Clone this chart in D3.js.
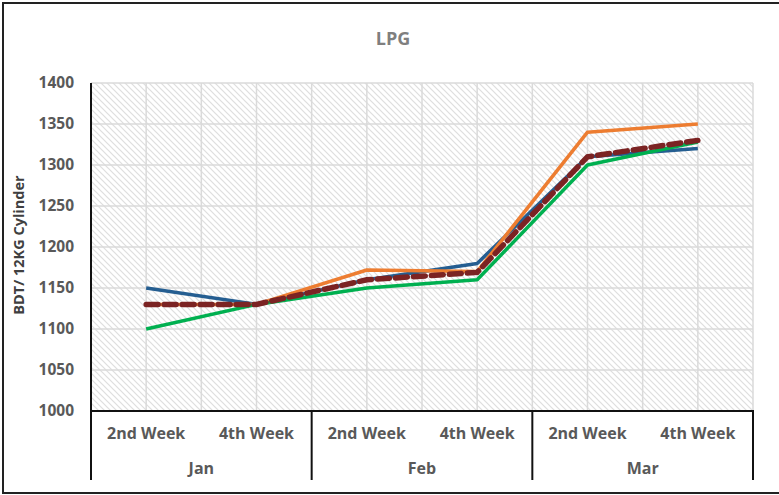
<!DOCTYPE html>
<html>
<head>
<meta charset="utf-8">
<script src="https://cdn.jsdelivr.net/npm/d3@7"></script>
<style>
  body { margin: 0; background: #fff; }
  text { font-family: "Open Sans", sans-serif; font-weight: bold; }
</style>
</head>
<body>
<svg id="chart" width="779" height="495"></svg>
<script>
// data
var months = ["Jan", "Feb", "Mar"];
var weeks = ["2nd Week", "4th Week"];
var categories = ["Jan 2nd Week", "Jan 4th Week", "Feb 2nd Week", "Feb 4th Week", "Mar 2nd Week", "Mar 4th Week"];
var blueSeries = [1150, 1130, 1160, 1180, 1310, 1320];
var orangeSeries = [1130, 1130, 1172, 1170, 1340, 1350];
var greenSeries = [1100, 1130, 1150, 1160, 1300, 1328];
var redSeries = [1130, 1130, 1160, 1169, 1310, 1330];
var yTicks = [1000, 1050, 1100, 1150, 1200, 1250, 1300, 1350, 1400];

var svg = d3.select("#chart"),
    plotL = 91, plotR = 753, plotT = 83, plotB = 411;

// outer frame
svg.append("rect")
    .attr("x", 3).attr("y", 3)
    .attr("width", 780).attr("height", 490)
    .attr("fill", "#fff")
    .attr("stroke", "#222").attr("stroke-width", 2);

// hatch pattern
var pat = svg.append("defs").append("pattern")
    .attr("id", "hatch")
    .attr("patternUnits", "userSpaceOnUse")
    .attr("width", 6).attr("height", 6);
pat.append("rect").attr("width", 6).attr("height", 6).attr("fill", "#fff");
pat.append("path")
    .attr("d", "M-1,-1 L7,7 M-1,5 L1,7 M5,-1 L7,1")
    .attr("stroke", "#dedede").attr("stroke-width", 1.2);

var x = d3.scaleBand().domain(categories).range([plotL, plotR]);
var y = d3.scaleLinear().domain([1000, 1400]).range([plotB, plotT]);

svg.append("rect")
    .attr("x", plotL).attr("y", plotT)
    .attr("width", plotR - plotL).attr("height", plotB - plotT)
    .attr("fill", "url(#hatch)");

// gridlines
var g = svg.append("g").attr("stroke", "#dadada").attr("stroke-width", 1.5);
yTicks.slice(1).forEach(function (t) {
    g.append("line").attr("x1", plotL).attr("x2", plotR).attr("y1", y(t)).attr("y2", y(t));
});
var vx = [];
categories.forEach(function (c) {
    vx.push(x(c) + x.bandwidth() / 2);
    vx.push(x(c) + x.bandwidth());
});
vx.forEach(function (v) {
    g.append("line").attr("x1", v).attr("x2", v).attr("y1", plotT).attr("y2", plotB);
});

// y axis labels
var yAxis = d3.axisLeft(y).tickValues(yTicks).tickSize(0).tickPadding(17).tickFormat(d3.format("d"));
var ya = svg.append("g").attr("transform", "translate(" + plotL + ",0)").call(yAxis);
ya.select(".domain").remove();
ya.selectAll("text").attr("font-size", 15.5).attr("fill", "#595959")
    .style("font-family", "'Open Sans', sans-serif").style("font-weight", "bold");

svg.append("text")
    .attr("transform", "translate(24,245) rotate(-90)")
    .attr("text-anchor", "middle")
    .attr("font-size", 14.5).attr("fill", "#404040")
    .text("BDT/ 12KG Cylinder");

// title
svg.append("text")
    .attr("x", 393).attr("y", 45)
    .attr("text-anchor", "middle")
    .attr("font-size", 18).attr("fill", "#7f7f7f")
    .text("LPG");

// lines
var line = d3.line()
    .x(function (d, i) { return x(categories[i]) + x.bandwidth() / 2; })
    .y(function (d) { return y(d); });

[[blueSeries, "#255e91"], [orangeSeries, "#ed7d31"], [greenSeries, "#00b050"]].forEach(function (s) {
    svg.append("path").datum(s[0])
        .attr("d", line)
        .attr("fill", "none")
        .attr("stroke", s[1])
        .attr("stroke-width", 3.5)
        .attr("stroke-linejoin", "round");
});
svg.append("path").datum(redSeries)
    .attr("d", line)
    .attr("fill", "none")
    .attr("stroke", "#7b2323")
    .attr("stroke-width", 5.5)
    .attr("stroke-dasharray", "12,6")
    .attr("stroke-linecap", "round");

// x axis
var ax = svg.append("g").attr("stroke", "#111");
ax.append("line").attr("x1", plotL - 1).attr("x2", plotR + 1).attr("y1", plotB).attr("y2", plotB).attr("stroke-width", 2);
ax.append("line").attr("x1", plotL).attr("x2", plotL).attr("y1", plotT).attr("y2", 480).attr("stroke-width", 2);
months.forEach(function (m, i) {
    var xe = x(categories[i * 2 + 1]) + x.bandwidth();
    ax.append("line").attr("x1", xe).attr("x2", xe).attr("y1", plotB).attr("y2", 480).attr("stroke-width", 2);
});

categories.forEach(function (c, i) {
    svg.append("text")
        .attr("x", x(c) + x.bandwidth() / 2).attr("y", 439)
        .attr("text-anchor", "middle")
        .attr("font-size", 16).attr("fill", "#595959")
        .text(weeks[i % 2]);
});
months.forEach(function (m, i) {
    var x0 = x(categories[i * 2]), x1 = x(categories[i * 2 + 1]) + x.bandwidth();
    svg.append("text")
        .attr("x", (x0 + x1) / 2).attr("y", 474)
        .attr("text-anchor", "middle")
        .attr("font-size", 16).attr("fill", "#595959")
        .text(m);
});
</script>
</body>
</html>
